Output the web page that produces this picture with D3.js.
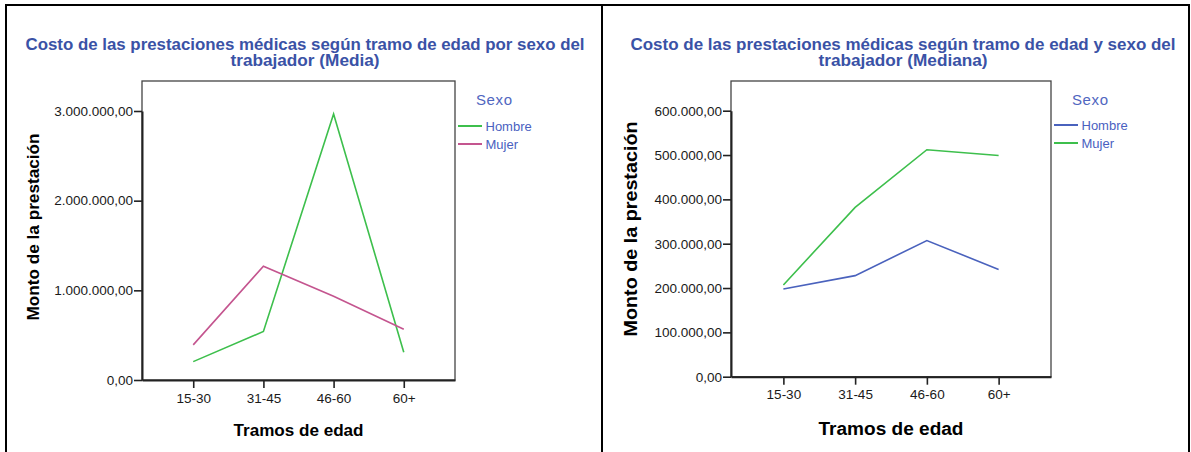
<!DOCTYPE html>
<html><head><meta charset="utf-8">
<script src="https://cdn.jsdelivr.net/npm/d3@7"></script>
<style>
html,body{margin:0;padding:0;background:#fff;}
svg{display:block;font-family:"Liberation Sans",Arial,sans-serif;}
</style></head>
<body>
<svg id="c" width="1191" height="452"></svg>
<script>
const categories = ["15-30","31-45","46-60","60+"];
// Left chart (Media)
const mediaHombre = [205000, 541000, 2967000, 310000];
const mediaMujer  = [392000, 1269000, 933000, 567000];
const mediaTicks  = [0, 1000000, 2000000, 3000000];
// Right chart (Mediana)
const medianaHombre = [198000, 228000, 307000, 242000];
const medianaMujer  = [207000, 382000, 512000, 499000];
const medianaTicks  = [0, 100000, 200000, 300000, 400000, 500000, 600000];
const seriesNames = ["Hombre","Mujer"];

const loc = d3.formatLocale({decimal:",", thousands:".", grouping:[3], currency:["$",""]});
const fmt = loc.format(",.2f");

const svg = d3.select("#c");
// outer frame
svg.append("line").attr("x1",6).attr("x2",6).attr("y1",4).attr("y2",452).attr("stroke","#000").attr("stroke-width",2);
svg.append("line").attr("x1",5).attr("x2",1190).attr("y1",5).attr("y2",5).attr("stroke","#000").attr("stroke-width",2);
svg.append("line").attr("x1",602).attr("x2",602).attr("y1",4).attr("y2",452).attr("stroke","#000").attr("stroke-width",2);
svg.append("line").attr("x1",1189).attr("x2",1189).attr("y1",4).attr("y2",452).attr("stroke","#000").attr("stroke-width",2);

function chart(o){
  const g = svg.append("g");
  const x = d3.scalePoint().domain(categories).range([o.left,o.right]).padding(0.73);
  const y = d3.scaleLinear().domain([0,o.ymax]).range([o.bottom,o.ytop]);
  // titles
  o.title.forEach((t,i)=>{
    g.append("text").attr("x",o.tcx).attr("y",o.ty[i]).attr("text-anchor","middle")
     .attr("font-weight","bold").attr("font-size",16).attr("fill","#3A52A6")
     .attr("textLength",o.tw[i]).attr("lengthAdjust","spacingAndGlyphs").text(t);
  });
  // frame
  g.append("rect").attr("x",o.left).attr("y",o.top).attr("width",o.right-o.left).attr("height",o.bottom-o.top)
   .attr("fill","none").attr("stroke","#444").attr("stroke-width",1.3);
  // axes
  const ya = d3.axisLeft(y).tickValues(o.ticks).tickFormat(fmt).tickSize(8).tickSizeOuter(0);
  const yg = g.append("g").attr("transform",`translate(${o.left},0)`).call(ya);
  const xa = d3.axisBottom(x).tickSize(8).tickSizeOuter(0);
  const xg = g.append("g").attr("transform",`translate(0,${o.bottom})`).call(xa);
  [yg,xg].forEach(a=>{
    a.select(".domain").attr("stroke","#222").attr("stroke-width",2);
    a.selectAll(".tick line").attr("stroke","#222").attr("stroke-width",1.6);
    a.selectAll("text").attr("font-size",13.5).attr("fill","#1a1a1a").attr("font-family","Liberation Sans, Arial, sans-serif");
  });
  yg.selectAll("text").attr("x",-9);
  xg.selectAll("text").attr("y",13);
  // axis titles
  g.append("text").attr("x",(o.left+o.right)/2).attr("y",o.xty).attr("text-anchor","middle")
   .attr("font-weight","bold").attr("font-size",o.atfs).attr("fill","#000")
   .attr("textLength",o.xtw).attr("lengthAdjust","spacingAndGlyphs").text("Tramos de edad");
  g.append("text").attr("transform",`translate(${o.ytx},${o.ytyc}) rotate(-90)`).attr("text-anchor","middle")
   .attr("font-weight","bold").attr("font-size",o.atfs).attr("fill","#000")
   .attr("textLength",o.ytw).attr("lengthAdjust","spacingAndGlyphs").text("Monto de la prestación");
  // lines
  const line = d3.line().x((d,i)=>x(categories[i])).y(d=>y(d));
  o.series.forEach((s,k)=>{
    g.append("path").datum(s).attr("d",line).attr("fill","none").attr("stroke",o.colors[k]).attr("stroke-width",1.6);
  });
  // legend
  g.append("text").attr("x",o.lx+18).attr("y",105).attr("font-size",15).attr("fill","#5066C0")
   .attr("textLength",36).attr("lengthAdjust","spacing").text("Sexo");
  seriesNames.forEach((n,k)=>{
    const yy = o.ly[k];
    g.append("line").attr("x1",o.lx).attr("x2",o.lx+24).attr("y1",yy).attr("y2",yy).attr("stroke",o.colors[k]).attr("stroke-width",2);
    g.append("text").attr("x",o.lx+27.5).attr("y",yy+5).attr("font-size",13).attr("fill","#4A5FBF").text(n);
  });
}

chart({left:142,right:455,top:81,bottom:380,ytop:111,ymax:3000000,ticks:mediaTicks,
  title:["Costo de las prestaciones médicas según tramo de edad por sexo del","trabajador (Media)"],
  tcx:305, ty:[50,66], tw:[559,149],
  xty:436, xtw:130, ytx:39, ytyc:227, ytw:187, atfs:16,
  series:[mediaHombre,mediaMujer], colors:["#3DBF4C","#C4558F"],
  lx:458, ly:[126,144]});

chart({left:731,right:1051,top:81,bottom:376.7,ytop:110.7,ymax:600000,ticks:medianaTicks,
  title:["Costo de las prestaciones médicas según tramo de edad y sexo del","trabajador (Mediana)"],
  tcx:903, ty:[50,66], tw:[545,169],
  xty:435, xtw:145, ytx:637, ytyc:229, ytw:215, atfs:18,
  series:[medianaHombre,medianaMujer], colors:["#4A62BD","#3DBF4C"],
  lx:1054, ly:[125,143]});
</script>
</body></html>
